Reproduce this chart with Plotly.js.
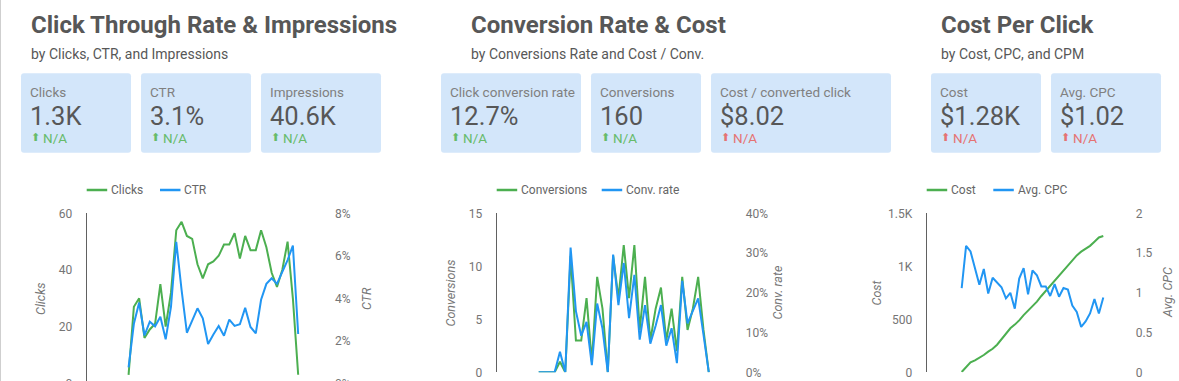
<!DOCTYPE html>
<html>
<head>
<meta charset="utf-8">
<script src="https://cdn.plot.ly/plotly-3.0.1.min.js"></script>
<style>
html,body{margin:0;padding:0;background:#fff;overflow:hidden;width:1179px;height:381px;}
#chart{width:1179px;height:420px;}
</style>
</head>
<body>
<div id="chart"></div>
<script>
// ---------------- data ----------------
const dates = ['2020-10-01','2020-10-02','2020-10-03','2020-10-04','2020-10-05','2020-10-06','2020-10-07','2020-10-08','2020-10-09','2020-10-10','2020-10-11','2020-10-12','2020-10-13','2020-10-14','2020-10-15','2020-10-16','2020-10-17','2020-10-18','2020-10-19','2020-10-20','2020-10-21','2020-10-22','2020-10-23','2020-10-24','2020-10-25','2020-10-26','2020-10-27','2020-10-28','2020-10-29','2020-10-30','2020-10-31','2020-11-01','2020-11-02'];

const clicks = [3,27,30,16,19,21,35,20,32,54,57,52,51,42,37,42,43,45,49,49,53,44,52,47,47,54,48,39,34,40,50,30,3];
const ctrPct = [0.75,2.8,3.8,2.25,2.9,2.68,3.13,2.07,3.6,6.66,4.4,2.38,2.95,3.53,3.06,1.85,2.3,2.7,2.24,3.0,2.7,2.78,3.55,2.65,2.35,3.93,4.68,4.94,4.68,5.22,5.8,6.48,2.32];

const conversions = [0,0,0,0,1,0,11,3,3,7,1,9,6,0,11,7,12,7,12,4,9,3,6,8,3,6,2,9,4,6,9,4,0];
const convRatePct = [0,0,0,0,5.2,0,31.4,15.4,9.2,12.7,1.8,17.3,11,0,29.6,16.9,27.5,13.6,24.5,8.2,16.9,7.2,11.7,16.9,6.7,11.1,2.3,23,12.3,15.7,18.6,9.5,0];

const costCumulative = [3,46,94,113,135,163,195,222,260,312,365,415,450,490,540,583,628,666,720,769,816,865,913,962,1008,1060,1103,1138,1162,1193,1232,1272,1286];
const avgCpc = [1.06,1.59,1.52,1.30,1.10,1.30,0.99,1.19,1.13,1.07,0.93,1.00,0.80,1.18,1.31,0.98,1.28,1.22,1.08,1.08,0.96,1.11,0.95,1.06,1.04,0.84,0.76,0.57,0.64,0.74,0.92,0.74,0.94];

const seriesNames = ['Clicks','CTR','Conversions','Conv. rate','Cost','Avg. CPC'];

const sectionTitles = ['Click Through Rate & Impressions','Conversion Rate & Cost','Cost Per Click'];
const sectionSubtitles = ['by Clicks, CTR, and Impressions','by Conversions Rate and Cost / Conv.','by Cost, CPC, and CPM'];

const cardLabels = ['Clicks','CTR','Impressions','Click conversion rate','Conversions','Cost / converted click','Cost','Avg. CPC'];
const cardValues = ['1.3K','3.1%','40.6K','12.7%','160','$8.02','$1.28K','$1.02'];
const cardDeltas = ['N/A','N/A','N/A','N/A','N/A','N/A','N/A','N/A'];
const cardPositive = [true,true,true,true,true,false,false,false];

const clickTicks = [0,20,40,60], ctrTicks = [0,2,4,6,8];
const convTicks = [0,5,10,15], convRateTicks = [0,10,20,30,40];
const costTicks = [0,500,1000,1500], costTickText = ['0','500','1K','1.5K'];
const cpcTicks = [0,0.5,1,1.5,2], cpcTickText = ['0','0.5','1','1.5','2'];

// ---------------- layout helpers ----------------
const W = 1179, H = 420;
const X = v => v / W;
const Y = v => 1 - v / H;
const PAD = 3; // annotation inner offset in px

const GREEN = '#4caf50', BLUE = '#2196f3';
const TXT = '#575757', MUTED = '#777777';
const GOOD = '#66bb6a', BAD = '#e57373';
const CARD = '#d3e6fa';

const sectionX = [32, 471.7, 941.7];
const cardBoxes = [[21,131],[141,251],[261,381],[441,581],[591,701],[711,891],[931,1041],[1051,1161]];
const cardTop = 73.3, cardBottom = 152.7;

const chartBoxes = [
  {x0:86.7, x1:325, top:213.3, bottom:383.3, leftTitleX:40.7, rightTitleX:366.7},
  {x0:496.7, x1:735.7, top:213.3, bottom:372.3, leftTitleX:450.7, rightTitleX:777.7},
  {x0:926.7, x1:1125.7, top:213.3, bottom:372.3, leftTitleX:876.7, rightTitleX:1167.3}
];
const legendPos = [[86.7,160],[496.7,601.7],[926.7,993.3]];
const legendY = 190;

function roundRect(x0,y0,x1,y1,r){
  return `M ${X(x0+r)} ${Y(y0)} L ${X(x1-r)} ${Y(y0)} Q ${X(x1)} ${Y(y0)} ${X(x1)} ${Y(y0+r)} `+
         `L ${X(x1)} ${Y(y1-r)} Q ${X(x1)} ${Y(y1)} ${X(x1-r)} ${Y(y1)} `+
         `L ${X(x0+r)} ${Y(y1)} Q ${X(x0)} ${Y(y1)} ${X(x0)} ${Y(y1-r)} `+
         `L ${X(x0)} ${Y(y0+r)} Q ${X(x0)} ${Y(y0)} ${X(x0+r)} ${Y(y0)} Z`;
}
function textAt(px, py, text, font, extra){
  return Object.assign({xref:'paper', yref:'paper', x:X(px-PAD), y:Y(py), xanchor:'left', yanchor:'middle',
    showarrow:false, text:text, font:font}, extra||{});
}

const shapes = [];
const annotations = [];

// left page border
shapes.push({type:'line', xref:'paper', yref:'paper', x0:X(0.5), x1:X(0.5), y0:0, y1:1, line:{color:'#cfcfcf', width:1}});

// section titles
sectionTitles.forEach((t,i)=>{
  annotations.push(textAt(sectionX[i], 24.5, '<b>'+t+'</b>', {family:'Roboto', size:24, color:TXT}));
  annotations.push(textAt(sectionX[i], 54, sectionSubtitles[i], {family:'Roboto', size:14, color:TXT}));
});

// cards
cardBoxes.forEach((b,i)=>{
  shapes.push({type:'path', xref:'paper', yref:'paper', path:roundRect(b[0],cardTop,b[1],cardBottom,3),
    fillcolor:CARD, line:{width:0}, layer:'below'});
  annotations.push(textAt(b[0]+10, 92.3, cardLabels[i], {family:'Roboto', size:13.5, color:'#808080'}));
  annotations.push(textAt(b[0]+10, 115.8, cardValues[i], {family:'Roboto', size:25.5, color:TXT}));
  const c = cardPositive[i] ? GOOD : BAD;
  annotations.push({xref:'paper', yref:'paper', x:X(b[0]+14.3), y:Y(138), xanchor:'center', yanchor:'middle', showarrow:false,
    text:'⬆', font:{family:'DejaVu Sans', size:11, color:c}});
  annotations.push(textAt(b[0]+23.3, 137.7, cardDeltas[i], {family:'Roboto', size:13.5, color:c}));
});

// legends (drawn manually for exact placement)
legendPos.forEach((p,i)=>{
  const names = [seriesNames[2*i], seriesNames[2*i+1]];
  [GREEN, BLUE].forEach((col,j)=>{
    shapes.push({type:'line', xref:'paper', yref:'paper', x0:X(p[j]), x1:X(p[j]+20.5), y0:Y(legendY), y1:Y(legendY), line:{color:col, width:2.5}});
    annotations.push(textAt(p[j]+25.3, legendY, names[j], {family:'Roboto', size:12, color:'#666666'}));
  });
});

// axis titles
const axisTitleNames = [['Clicks','CTR'],['Conversions','Conv. rate'],['Cost','Avg. CPC']];
chartBoxes.forEach((c,i)=>{
  const yc = (c.top + c.bottom)/2;
  [c.leftTitleX, c.rightTitleX].forEach((tx,j)=>{
    annotations.push({xref:'paper', yref:'paper', x:X(tx), y:Y(yc), xanchor:'center', yanchor:'middle', showarrow:false,
      textangle:-90, text:'<i>'+axisTitleNames[i][j]+'</i>', font:{family:'Roboto', size:12.5, color:MUTED}});
  });
});

// x range in dates (padding of the original chart)
const DAY = 864e5;
const t0 = Date.parse(dates[0]+'T00:00:00Z');
const fmt = ms => new Date(ms).toISOString().replace('T',' ').replace('Z','');
const xRange = [fmt(t0 - 7.9*DAY), fmt(t0 + 37.06*DAY)];

const tickFont = {family:'Roboto', size:12, color:'#757575'};
function xAxis(c, showLabels){
  return {domain:[X(c.x0), X(c.x1)], type:'date', range:xRange, showgrid:false, zeroline:false,
    showline:true, linecolor:'#616161', linewidth:1, ticks:'', showticklabels:showLabels,
    tick0:dates[0], dtick:9*DAY, tickformat:'%b %d', tickangle:-45, tickfont:tickFont, ticklabelstandoff:0, fixedrange:true};
}
function yLeft(c, xa, vals, text){
  return {domain:[Y(c.bottom), Y(c.top)], anchor:xa, range:[vals[0], vals[vals.length-1]], showgrid:false, zeroline:false,
    showline:true, linecolor:'#616161', linewidth:1, ticks:'', tickmode:'array', tickvals:vals, ticktext:text,
    tickfont:tickFont, ticklabelstandoff:11, fixedrange:true};
}
function yRight(base, xa, vals, text){
  return {overlaying:base, side:'right', anchor:xa, range:[vals[0], vals[vals.length-1]], showgrid:false, zeroline:false,
    showline:false, ticks:'', tickmode:'array', tickvals:vals, ticktext:text,
    tickfont:tickFont, ticklabelstandoff:9, fixedrange:true};
}
const pct = a => a.map(v => v + '%');
const plain = a => a.map(v => String(v));

const layout = {
  width:W, height:H, margin:{l:0,r:0,t:0,b:0},
  paper_bgcolor:'#ffffff', plot_bgcolor:'rgba(0,0,0,0)',
  showlegend:false, font:{family:'Roboto'},
  xaxis: xAxis(chartBoxes[0], false),
  yaxis: yLeft(chartBoxes[0], 'x', clickTicks, plain(clickTicks)),
  yaxis2: yRight('y', 'x', ctrTicks, pct(ctrTicks)),
  xaxis2: xAxis(chartBoxes[1], false),
  yaxis3: yLeft(chartBoxes[1], 'x2', convTicks, plain(convTicks)),
  yaxis4: yRight('y3', 'x2', convRateTicks, pct(convRateTicks)),
  xaxis3: xAxis(chartBoxes[2], true),
  yaxis5: yLeft(chartBoxes[2], 'x3', costTicks, costTickText),
  yaxis6: yRight('y5', 'x3', cpcTicks, cpcTickText),
  shapes:shapes, annotations:annotations
};

const lineStyle = col => ({color:col, width:2});
const traces = [
  {x:dates, y:clicks, name:seriesNames[0], type:'scatter', mode:'lines', line:lineStyle(GREEN), xaxis:'x', yaxis:'y'},
  {x:dates, y:ctrPct, name:seriesNames[1], type:'scatter', mode:'lines', line:lineStyle(BLUE), xaxis:'x', yaxis:'y2'},
  {x:dates, y:conversions, name:seriesNames[2], type:'scatter', mode:'lines', line:lineStyle(GREEN), xaxis:'x2', yaxis:'y3'},
  {x:dates, y:convRatePct, name:seriesNames[3], type:'scatter', mode:'lines', line:lineStyle(BLUE), xaxis:'x2', yaxis:'y4'},
  {x:dates, y:costCumulative, name:seriesNames[4], type:'scatter', mode:'lines', line:lineStyle(GREEN), xaxis:'x3', yaxis:'y5'},
  {x:dates, y:avgCpc, name:seriesNames[5], type:'scatter', mode:'lines', line:lineStyle(BLUE), xaxis:'x3', yaxis:'y6'}
];

Plotly.newPlot('chart', traces, layout, {displayModeBar:false, staticPlot:true});
</script>
</body>
</html>
